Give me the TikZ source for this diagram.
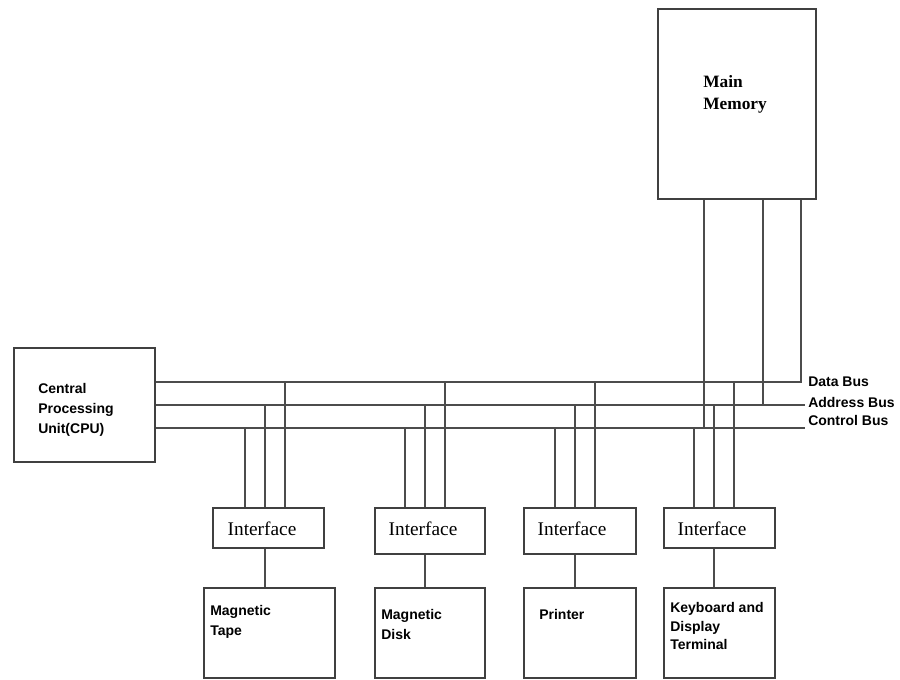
\documentclass[tikz,border=0pt]{standalone}
\usepackage{fontspec}
\setmainfont{Liberation Serif}
\setsansfont{Liberation Sans}
\usetikzlibrary{fit,calc}
\begin{document}
\begin{tikzpicture}[x=0.75pt,y=-0.75pt,
  box/.style={draw=black!75,line width=0.9pt,inner sep=0pt,rectangle},
  wire/.style={draw=black!70,line width=0.9pt},
  lbl/.style={font=\sffamily\bfseries\fontsize{10.5}{15}\selectfont,align=left,inner sep=0pt},
  iflbl/.style={font=\rmfamily\fontsize{14.5}{17}\selectfont,inner sep=0pt},
  memlbl/.style={font=\rmfamily\bfseries\fontsize{13}{16.5}\selectfont,align=left,inner sep=0pt}]
\useasboundingbox[fill=white] (0,0) rectangle (900,679);

% main blocks
\node[box,fit={(658,9) (816,199)}] (mem) {};
\node[box,fit={(14,348) (155,462)}] (cpu) {};

% interfaces and devices
\node[box,fit={(213,508) (324,548)}] (if1) {};
\node[box,fit={(375,508) (485,554)}] (if2) {};
\node[box,fit={(524,508) (636,554)}] (if3) {};
\node[box,fit={(664,508) (775,548)}] (if4) {};
\node[box,fit={(204,588) (335,678)}] (dev1) {};
\node[box,fit={(375,588) (485,678)}] (dev2) {};
\node[box,fit={(524,588) (636,678)}] (dev3) {};
\node[box,fit={(664,588) (775,678)}] (dev4) {};

% texts
\node[memlbl,anchor=west] (memtxt) at (703,94) {Main\\Memory};
\node[lbl,anchor=west] (cputxt) at (38,410) {Central\\Processing\\Unit(CPU)};
\node[iflbl] (if1txt) at (262,529) {Interface};
\node[iflbl] (if2txt) at (423,529) {Interface};
\node[iflbl] (if3txt) at (572,529) {Interface};
\node[iflbl] (if4txt) at (712,529) {Interface};
\node[lbl,anchor=west] (dev1txt) at (210,622) {Magnetic\\Tape};
\node[lbl,anchor=west] (dev2txt) at (381,624.5) {Magnetic\\Disk};
\node[lbl,anchor=west] (dev3txt) at (539,614) {Printer};
\node[lbl,anchor=west,font=\sffamily\bfseries\fontsize{10.5}{14.2}\selectfont] (dev4txt) at (670,626) {Keyboard and\\Display\\Terminal};

% bus ends and their labels
\coordinate (dbE) at (802,382);
\coordinate (abE) at (805,405);
\coordinate (cbE) at (805,428);
\node[lbl,anchor=west] (dlab) at (808,382) {Data Bus};
\node[lbl,anchor=west] (alab) at (808,402) {Address Bus};
\node[lbl,anchor=west] (clab) at (808,420) {Control Bus};

% system buses
\draw[wire] (cpu.east |- dbE) -- (dbE);
\draw[wire] (cpu.east |- abE) -- (abE);
\draw[wire] (cpu.east |- cbE) -- (cbE);

% memory taps
\draw[wire] (704,0 |- mem.south) -- (704,0 |- cbE);
\draw[wire] (763,0 |- mem.south) -- (763,0 |- abE);
\draw[wire] (801,0 |- mem.south) -- (801,0 |- dbE);

% interface taps and device links
\foreach \i/\x in {1/265,2/425,3/575,4/714}{
  \draw[wire] ({\x-20},0 |- if\i.north) -- ({\x-20},0 |- cbE);
  \draw[wire] (\x,0 |- if\i.north) -- (\x,0 |- abE);
  \draw[wire] ({\x+20},0 |- if\i.north) -- ({\x+20},0 |- dbE);
  \draw[wire] (\x,0 |- if\i.south) -- (\x,0 |- dev\i.north);
}
\end{tikzpicture}
\end{document}
